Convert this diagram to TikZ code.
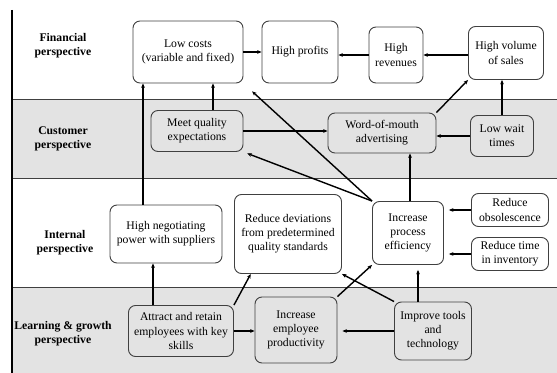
\documentclass[tikz,border=0pt]{standalone}
\usepackage{fontspec}
\setmainfont{Liberation Serif}
\usetikzlibrary{arrows.meta, calc}
\definecolor{band}{gray}{0.89}
\definecolor{edge}{gray}{0.25}
\tikzset{
    bx/.style={draw=edge, line width=0.8pt, rounded corners=6pt, fill=white, align=center, inner sep=2pt, font=\fontsize{10}{12}\selectfont},
    gbx/.style={bx, fill=band},
    persp/.style={align=center, font=\fontsize{10}{12}\selectfont\bfseries},
    bd/.style={line width=1.2pt, -{Stealth[length=3.8pt,width=3.2pt]}}
}

\begin{document}
\begin{tikzpicture}[x=0.03cm, y=-0.03cm]
        \useasboundingbox (0,0) rectangle (557,373);
        % bands
        \fill[band] (12,99) rectangle (557,178);
        \fill[band] (12,287) rectangle (557,373);
        \draw[edge, line width=0.7pt] (12,99) -- (557,99) (12,178) -- (557,178) (12,287) -- (557,287);
        \draw[line width=1pt] (12,10) -- (12,373);

        \node[persp] (pf) at (63,46) {Financial\\perspective};
        \node[persp] (pc) at (63,139) {Customer\\perspective};
        \node[persp] (pi) at (65,243) {Internal\\perspective};
        \node[persp] (pl) at (63,334) {Learning \& growth\\perspective};

        \node[bx, minimum width=3.3cm, minimum height=1.86cm] (lowcost) at (188,52) {Low costs\\(variable and fixed)};
        \node[bx, minimum width=2.28cm, minimum height=1.86cm] (highprof) at (300,52) {High profits};
        \node[bx, minimum width=1.62cm, minimum height=1.68cm] (highrev) at (396,55) {High\\revenues};
        \node[bx, minimum width=2.25cm, minimum height=1.59cm] (highvol) at (506,53) {High volume\\of sales};
        \node[gbx, minimum width=2.76cm, minimum height=1.23cm] (meetq) at (197,131) {Meet quality\\expectations};
        \node[gbx, minimum width=3.24cm, minimum height=1.2cm] (wom) at (382,133) {Word-of-mouth\\advertising};
        \node[gbx, minimum width=1.89cm, minimum height=1.23cm] (lowwait) at (502,136) {Low wait\\times};
        \node[bx, minimum width=3.36cm, minimum height=1.74cm] (highneg) at (166,234) {High negotiating\\power with suppliers};
        \node[bx, minimum width=3.21cm, minimum height=2.37cm] (reddev) at (288,234) {Reduce deviations\\from predetermined\\quality standards};
        \node[bx, minimum width=2.13cm, minimum height=1.89cm] (incproc) at (408,233) {Increase\\process\\efficiency};
        \node[bx, minimum width=2.31cm, minimum height=0.99cm] (redobs) at (510,210) {Reduce\\obsolescence};
        \node[bx, minimum width=2.31cm, minimum height=0.99cm] (redtime) at (510,254) {Reduce time\\in inventory};
        \node[gbx, minimum width=3.15cm, minimum height=1.53cm] (attract) at (181,331) {Attract and retain\\employees with key\\skills};
        \node[gbx, minimum width=2.46cm, minimum height=1.98cm] (incemp) at (296,330) {Increase\\employee\\productivity};
        \node[gbx, minimum width=2.31cm, minimum height=1.74cm] (improve) at (433,331) {Improve tools\\and\\technology};

        % financial
        \draw[bd] (lowcost) -- (highprof);
        \draw[bd] (highrev.west) -- (highprof.east |- highrev.west);
        \draw[bd] (highvol.west |- highrev.east) -- (highrev.east);
        % customer
        \draw[bd] (wom.north east) -- (highvol.south west);
        \draw[bd] (lowwait.west) -- (wom.east |- lowwait.west);
        \draw[bd] (lowwait.north) -- (lowwait.north |- highvol.south);
        \draw[bd] (meetq.east) -- (wom.west |- meetq.east);
        \draw[bd] (meetq.north -| 213,0) -- (lowcost.south -| 213,0);
        % internal
        \draw[bd] (highneg.north -| 143,0) -- (lowcost.south -| 143,0);
        \draw[bd, shorten >=3.5mm] (incproc.north west) -- (lowcost.south east);
        \draw[bd, shorten >=1.2mm] (incproc.north west) -- (meetq.south east);
        \draw[bd] (incproc.north -| 410,0) -- (wom.south -| 410,0);
        \draw[bd, shorten >=1.5mm] (redobs.west) -- (incproc.east |- redobs.west);
        \draw[bd, shorten >=1.5mm] (redtime.west) -- (incproc.east |- redtime.west);
        % learning & growth
        \draw[bd, shorten >=1.5mm] (improve.north -| 418,0) -- (incproc.south -| 418,0);
        \draw[bd] (improve.north west) -- (reddev.south east);
        \draw[bd] (incemp.north east) -- (incproc.south west);
        \draw[bd, shorten >=1.5mm] (improve.west) -- (incemp.east |- improve.west);
        \draw[bd] (attract.east) -- (incemp.west |- attract.east);
        \draw[bd] (attract.north -| 153,0) -- (highneg.south -| 153,0);
        \draw[bd] (attract.north east) -- (reddev.-133);
    \end{tikzpicture}
\end{document}
